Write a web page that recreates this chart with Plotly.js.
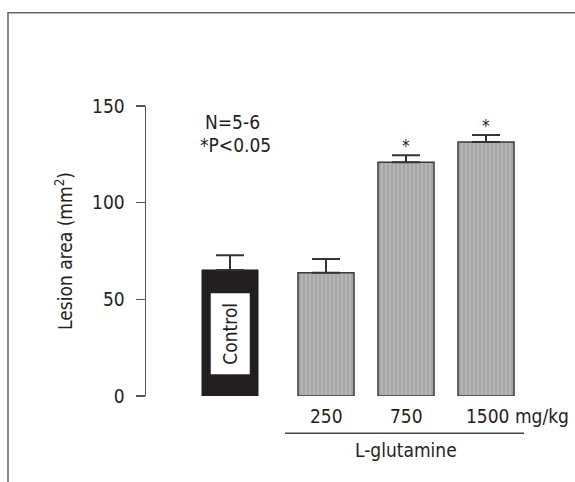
<!DOCTYPE html>
<html>
<head>
<meta charset="utf-8">
<script src="https://cdn.plot.ly/plotly-3.0.1.min.js"></script>
<style>html,body{margin:0;padding:0;background:#fff;}</style>
</head>
<body>
<div id="chart" style="width:575px;height:482px;"></div>
<script>
// Data
var categories = ['Control', '250', '750', '1500'];
var tickLabels = ['', '250', '750', '1500 mg/kg'];
var lesionArea = [65.2, 63.8, 120.9, 131.4];
var semError = [7.6, 7.1, 3.6, 3.6];
var significant = [false, false, true, true];
var groupLabel = 'L-glutamine';

var FONT = '"Liberation Sans Narrow", "DejaVu Sans Condensed", "Liberation Sans", sans-serif';
var INK = '#231f20';
var FS = 19;

var controlTrace = {
  type: 'bar',
  x: [categories[0]],
  y: [lesionArea[0]],
  width: 0.7,
  offset: -0.55,
  marker: {color: INK, line: {color: INK, width: 1}},
  error_y: {type: 'data', symmetric: false, array: [semError[0]], arrayminus: [0],
            color: '#333', thickness: 2, width: 14},
  hoverinfo: 'none', showlegend: false
};

var glnTrace = {
  type: 'bar',
  x: categories.slice(1),
  y: lesionArea.slice(1),
  width: 0.7,
  marker: {
    color: '#b3b3b3',
    line: {color: '#3a3a3a', width: 1.5},
    pattern: {shape: '|', bgcolor: '#b6b6b6', fgcolor: '#9c9c9c', size: 4, solidity: 0.35}
  },
  error_y: {type: 'data', symmetric: false, array: semError.slice(1), arrayminus: [0, 0, 0],
            color: '#333', thickness: 2, width: 14},
  hoverinfo: 'none', showlegend: false
};

var annotations = [];
// tick labels under the L-glutamine bars
for (var i = 1; i < categories.length; i++) {
  var isLast = (i === categories.length - 1);
  annotations.push({
    x: i, xref: 'x', y: -0.069, yref: 'paper',
    text: tickLabels[i], showarrow: false,
    xanchor: isLast ? 'left' : 'center', xshift: isLast ? -22 : 0,
    yanchor: 'middle',
    font: {family: FONT, size: FS, color: INK}
  });
}
// significance stars
for (var j = 0; j < categories.length; j++) {
  if (significant[j]) {
    annotations.push({
      x: j, xref: 'x', y: lesionArea[j] + semError[j], yref: 'y',
      text: '*', showarrow: false, yanchor: 'middle', yshift: 9,
      font: {family: FONT, size: 17, color: INK}
    });
  }
}
annotations.push({
  x: 2, xref: 'x', y: -0.186, yref: 'paper', text: groupLabel, showarrow: false,
  yanchor: 'middle', font: {family: FONT, size: FS, color: INK}
});
annotations.push({
  x: -0.175, xref: 'x', y: 141.9, yref: 'y', text: 'N=5-6', showarrow: false,
  yanchor: 'middle', font: {family: FONT, size: FS, color: INK}
});
annotations.push({
  x: -0.13, xref: 'x', y: 129.9, yref: 'y', text: '*P&lt;0.05', showarrow: false,
  yanchor: 'middle', font: {family: FONT, size: FS, color: INK}
});
annotations.push({
  x: -0.2, xref: 'x', y: 32.2, yref: 'y', text: 'Control', showarrow: false,
  textangle: -90, bgcolor: '#ffffff', width: 78, height: 36,
  font: {family: FONT, size: FS, color: INK}
});

var layout = {
  width: 575, height: 482,
  margin: {l: 146, r: 41, t: 106, b: 86, pad: 0},
  paper_bgcolor: '#ffffff', plot_bgcolor: '#ffffff',
  font: {family: FONT, color: INK},
  bargap: 0.3,
  xaxis: {
    type: 'category', categoryorder: 'array', categoryarray: categories,
    range: [-1.25, 3.6], showticklabels: false, ticks: '', showline: false,
    showgrid: false, zeroline: false, fixedrange: true
  },
  yaxis: {
    range: [0, 150], tickvals: [0, 50, 100, 150],
    showline: true, linecolor: '#555', linewidth: 1.5,
    ticks: 'outside', ticklen: 9, tickwidth: 1.5, tickcolor: '#555',
    ticklabelstandoff: 7,
    showgrid: false, zeroline: false, fixedrange: true,
    tickfont: {family: FONT, size: FS, color: INK},
    title: {text: 'Lesion area (mm<sup>2</sup>)', standoff: 14,
            font: {family: FONT, size: FS, color: INK}}
  },
  annotations: annotations,
  shapes: [
    {type: 'line', xref: 'x', yref: 'paper', x0: 0.4875, x1: 3.475, y0: -0.1286, y1: -0.1286,
     line: {color: '#444', width: 1.5}},
    {type: 'rect', xref: 'paper', yref: 'paper', x0: -0.3557, x1: 1.3, y0: -0.6, y1: 1.3217,
     line: {color: '#666', width: 1.5}, fillcolor: 'rgba(0,0,0,0)', layer: 'below'}
  ]
};

Plotly.newPlot('chart', [controlTrace, glnTrace], layout, {displayModeBar: false, staticPlot: true});
</script>
</body>
</html>
